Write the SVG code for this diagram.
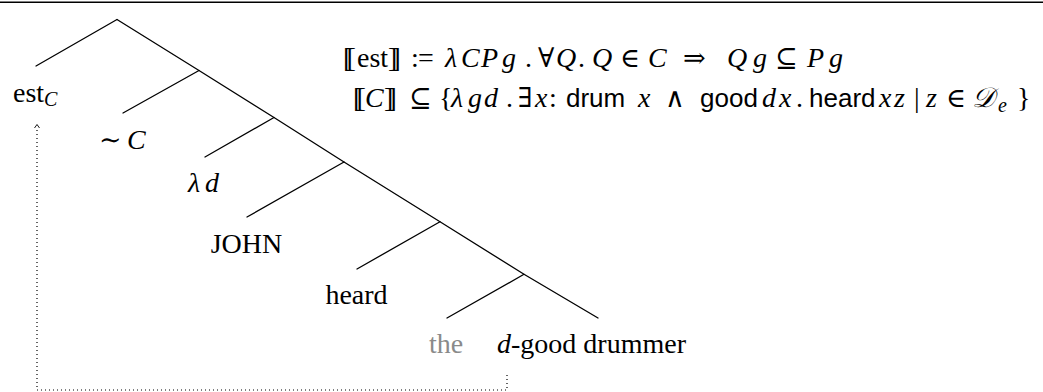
<svg xmlns="http://www.w3.org/2000/svg" width="1043" height="392" viewBox="0 0 1043 392">
<style>
text{font-family:"Liberation Serif","DejaVu Serif",serif;font-size:28px;fill:#000}
.i{font-style:italic}
.sym{font-family:"DejaVu Serif","Liberation Serif",serif;font-size:27px}
.sf{font-family:"Liberation Sans","DejaVu Sans",sans-serif;font-size:26px}
.sub{font-size:20px;font-style:italic}
.bb{letter-spacing:-5.8px}
.edge{stroke:#000;stroke-width:1.3;fill:none;stroke-linecap:round}
.dot{stroke:#000;stroke-width:1.2;fill:none;stroke-dasharray:1 3}
.gray{fill:#8a8a8a}
</style>
<line x1="0" y1="2.3" x2="1043" y2="2.3" stroke="#000" stroke-width="1.5"/>
<g id="connectors">
<polyline class="edge" points="117,19.5 199,70.5 274,117.5 344,162 440,221.7 524,274.3 598,318"/>
<line class="edge" x1="117" y1="19.5" x2="36" y2="66"/>
<line class="edge" x1="199" y1="70.5" x2="123" y2="113"/>
<line class="edge" x1="274" y1="117.5" x2="205" y2="157"/>
<line class="edge" x1="344" y1="162" x2="247" y2="217"/>
<line class="edge" x1="440" y1="221.7" x2="357" y2="269"/>
<line class="edge" x1="524" y1="274.3" x2="447" y2="318"/>
<path class="dot" d="M507,375 V390 H37 V128"/>
<polyline points="34.5,128 37,124.5 39.5,128" fill="none" stroke="#000" stroke-width="0.9"/>
</g>
<g id="node-est"><text x="13" y="102">est<tspan class="sub" dy="4">C</tspan></text></g>
<g id="node-simC"><text x="99" y="149"><tspan class="sym" font-size="28">∼</tspan><tspan class="i" x="127">C</tspan></text></g>
<g id="node-lambda-d"><text class="i" x="188" y="192">λ<tspan x="205">d</tspan></text></g>
<g id="node-john"><text x="246.5" y="253" text-anchor="middle">JOHN</text></g>
<g id="node-heard"><text x="356.5" y="304" text-anchor="middle">heard</text></g>
<g id="node-the"><text class="gray" x="446" y="353" text-anchor="middle">the</text></g>
<g id="node-drummer"><text x="497" y="353"><tspan class="i">d</tspan>-good drummer</text></g>
<g id="formula-1">
<text y="67"><tspan class="bb" x="343">[[</tspan><tspan x="357">est</tspan><tspan class="bb" x="388">]]</tspan><tspan x="411">:</tspan><tspan x="418">=</tspan><tspan class="i" x="445">λ</tspan><tspan class="i" x="461">C</tspan><tspan class="i" x="481">P</tspan><tspan class="i" x="502">g</tspan><tspan x="525">.</tspan><tspan class="sym" x="538">∀</tspan><tspan class="i" x="556">Q</tspan><tspan x="578">.</tspan><tspan class="i" x="592">Q</tspan><tspan class="sym" x="620">∈</tspan><tspan class="i" x="648">C</tspan><tspan class="sym" x="683">⇒</tspan><tspan class="i" x="727">Q</tspan><tspan class="i" x="753">g</tspan><tspan class="sym" x="775">⊆</tspan><tspan class="i" x="807">P</tspan><tspan class="i" x="829">g</tspan></text>
</g>
<g id="formula-2">
<text y="107"><tspan class="bb" x="353">[[</tspan><tspan class="i" x="365">C</tspan><tspan class="bb" x="384">]]</tspan><tspan class="sym" x="409">⊆</tspan><tspan x="439">{</tspan><tspan class="i" x="451">λ</tspan><tspan class="i" x="468">g</tspan><tspan class="i" x="484">d</tspan><tspan x="506">.</tspan><tspan class="sym" x="518">∃</tspan><tspan class="i" x="535">x</tspan><tspan x="549">:</tspan><tspan class="sf" x="566">drum</tspan><tspan class="i" x="638">x</tspan><tspan class="sym" x="665">∧</tspan><tspan class="sf" x="700">good</tspan><tspan class="i" x="762">d</tspan><tspan class="i" x="779">x</tspan><tspan x="796">.</tspan><tspan class="sf" x="809">heard</tspan><tspan class="i" x="879">x</tspan><tspan class="i" x="894">z</tspan><tspan x="914">|</tspan><tspan class="i" x="926">z</tspan><tspan class="sym" x="946">∈</tspan><tspan class="i" x="972">𝒟</tspan><tspan class="sub" x="998" dy="5">e</tspan><tspan x="1017" dy="-5">}</tspan></text>
</g>
</svg>
